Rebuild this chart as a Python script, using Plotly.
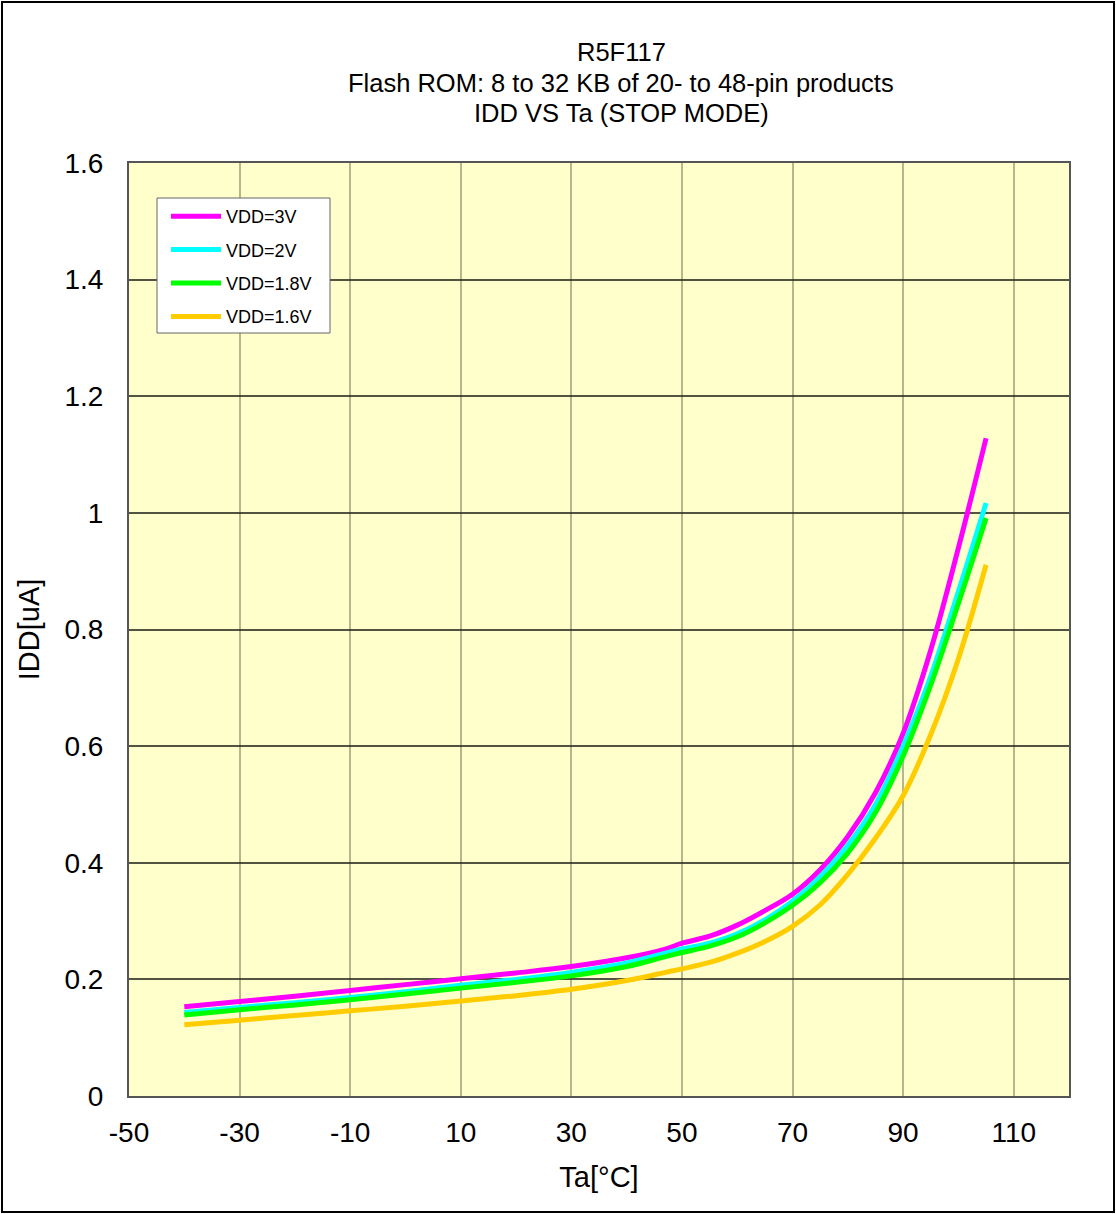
import plotly.graph_objects as go

# ---- data ----
ta = [-40, -30, -20, -10, 0, 10, 20, 30, 40, 47, 50, 55, 60, 65, 70, 75, 80, 85, 90, 95, 100, 105]
idd_3v = [0.153, 0.162, 0.171, 0.181, 0.191, 0.201, 0.211, 0.222, 0.237, 0.252, 0.262, 0.274, 0.293,
          0.318, 0.346, 0.388, 0.445, 0.520, 0.622, 0.765, 0.940, 1.128]
idd_2v = [0.143, 0.152, 0.160, 0.169, 0.179, 0.190, 0.200, 0.212, 0.228, 0.245, 0.252, 0.262, 0.278,
          0.302, 0.334, 0.376, 0.430, 0.500, 0.600, 0.720, 0.865, 1.017]
idd_1v8 = [0.139, 0.148, 0.156, 0.165, 0.175, 0.185, 0.195, 0.206, 0.222, 0.239, 0.246, 0.257, 0.273,
           0.297, 0.327, 0.366, 0.417, 0.486, 0.583, 0.705, 0.845, 0.991]
idd_1v6 = [0.122, 0.130, 0.138, 0.146, 0.154, 0.163, 0.172, 0.183, 0.198, 0.212, 0.218, 0.229, 0.245,
           0.265, 0.291, 0.328, 0.380, 0.442, 0.515, 0.620, 0.750, 0.911]

series_names = ["VDD=3V", "VDD=2V", "VDD=1.8V", "VDD=1.6V"]
series_values = [idd_3v, idd_2v, idd_1v8, idd_1v6]
series_colors = ["#FF00FF", "#00FFFF", "#00FF00", "#FFCC00"]

x_tickvals = [-50, -30, -10, 10, 30, 50, 70, 90, 110]
x_ticktext = ["-50", "-30", "-10", "10", "30", "50", "70", "90", "110"]
y_tickvals = [0, 0.2, 0.4, 0.6, 0.8, 1.0, 1.2, 1.4, 1.6]
y_ticktext = ["0", "0.2", "0.4", "0.6", "0.8", "1", "1.2", "1.4", "1.6"]

title_lines = ["R5F117", "Flash ROM: 8 to 32 KB of 20- to 48-pin products", "IDD VS Ta (STOP MODE)"]

# ---- figure ----
W, H = 1116, 1214
L, R, T, B = 129, 47, 163, 118
pw, ph = W - L - R, H - T - B

def px_x(p):
    return (p - L) / pw

def px_y(p):
    return (H - B - p) / ph

fig = go.Figure()
for i, (name, vals, col) in enumerate(zip(series_names, series_values, series_colors)):
    fig.add_trace(go.Scatter(
        x=ta, y=vals, name=name, mode="lines",
        line=dict(color=col, width=5, shape="spline", smoothing=1.0),
        legendgroup=f"g{i}",
    ))

font_family = "Liberation Sans, Arial, sans-serif"

fig.update_layout(
    width=W, height=H,
    margin=dict(l=L, r=R, t=T, b=B, pad=0),
    paper_bgcolor="white",
    plot_bgcolor="#FFFFCC",
    font=dict(family=font_family, color="black", size=28),
    showlegend=True,
    legend=dict(
        x=px_x(166), y=px_y(198), xanchor="left", yanchor="top",
        bgcolor="rgba(0,0,0,0)", borderwidth=0,
        font=dict(size=18, family=font_family),
        tracegroupgap=7, itemwidth=50,
    ),
    xaxis=dict(
        range=[-50, 120], tickvals=x_tickvals, ticktext=x_ticktext,
        showgrid=True, gridcolor="rgba(80,80,60,0.42)", gridwidth=2,
        zeroline=False, showline=True, linecolor="#555555", linewidth=2, mirror=True,
        ticks="", ticklabelstandoff=10,
        tickfont=dict(size=28),
        title=dict(text="Ta[°C]", font=dict(size=29), standoff=20),
    ),
    yaxis=dict(
        range=[0, 1.6], tickvals=y_tickvals, ticktext=y_ticktext,
        showgrid=True, gridcolor="rgba(40,40,30,0.8)", gridwidth=1.5,
        zeroline=False, showline=True, linecolor="#555555", linewidth=2, mirror=True,
        ticks="", ticklabelstandoff=18,
        tickfont=dict(size=28),
        title=dict(text="IDD[uA]", font=dict(size=29), standoff=16),
    ),
)

for txt, yp in zip(title_lines, [52, 83, 113]):
    fig.add_annotation(
        text=txt, x=px_x(621), y=px_y(yp), xref="paper", yref="paper",
        xanchor="center", yanchor="middle", showarrow=False,
        font=dict(size=25.5, family=font_family, color="black"),
    )

# legend box
fig.add_shape(
    type="rect", xref="paper", yref="paper",
    x0=px_x(157), x1=px_x(330), y0=px_y(333), y1=px_y(198),
    line=dict(color="#666666", width=1), fillcolor="white", layer="above",
)

# outer frame
fig.add_shape(
    type="rect", xref="paper", yref="paper",
    x0=px_x(2), x1=px_x(1114), y0=px_y(1212), y1=px_y(2),
    line=dict(color="black", width=2), fillcolor="rgba(0,0,0,0)", layer="below",
)

fig.write_html(
    "out.html",
    config={"displayModeBar": False},
    post_script="document.body.style.margin='0';document.body.style.overflow='hidden';",
)
